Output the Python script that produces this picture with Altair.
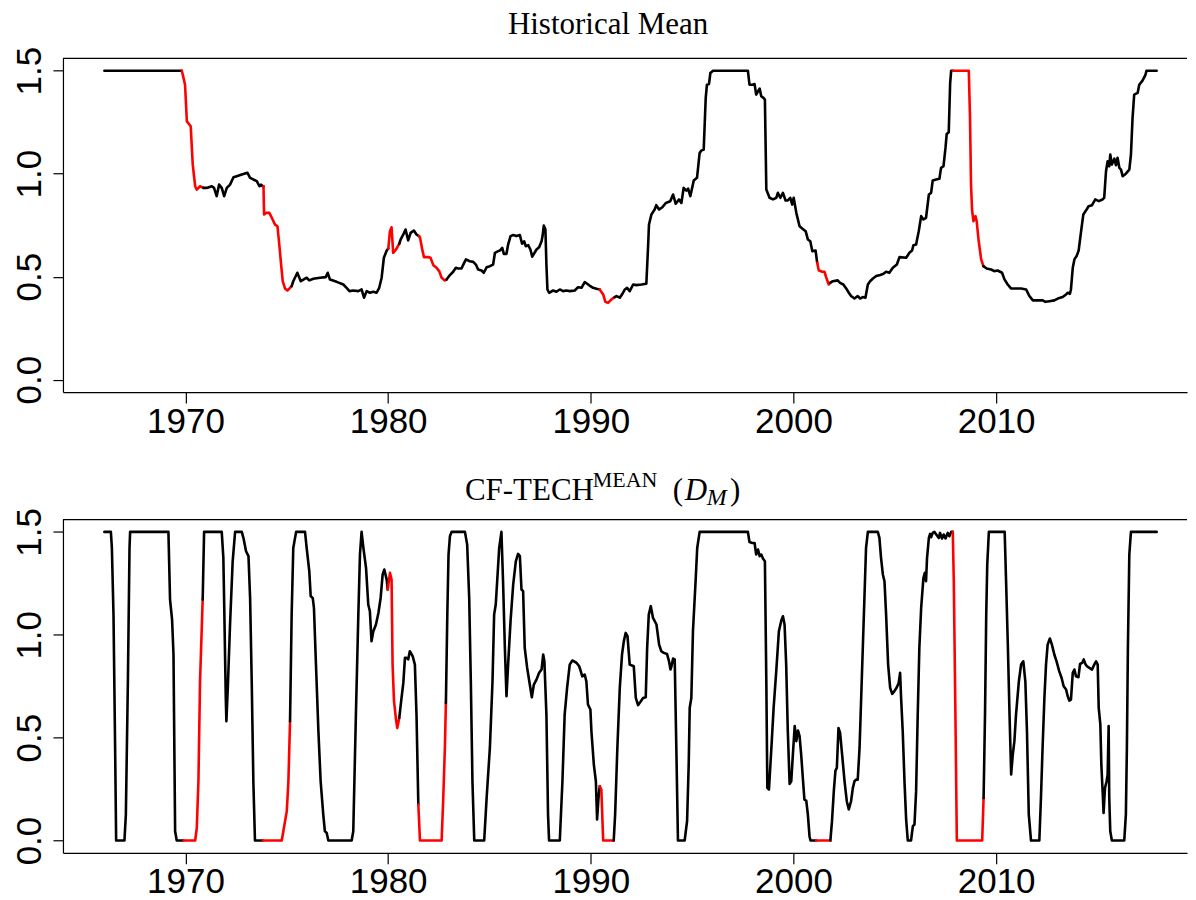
import altair as alt
import pandas as pd

# ---------------- data ----------------
top_t = [1966.00, 1969.82, 1969.87, 1969.98, 1970.07, 1970.26, 1970.36, 1970.48, 1970.56, 1970.72, 1970.89,
         1971.05, 1971.30, 1971.41, 1971.54, 1971.66, 1971.79, 1971.91, 1972.04, 1972.20, 1972.37, 1972.53,
         1972.78, 1973.06, 1973.19, 1973.35, 1973.52, 1973.65, 1973.73, 1973.81, 1973.85, 1973.88, 1973.98,
         1974.14, 1974.26, 1974.42, 1974.54, 1974.63, 1974.72, 1974.80, 1974.91, 1975.03, 1975.16, 1975.24,
         1975.32, 1975.52, 1975.69, 1975.82, 1975.98, 1976.11, 1976.31, 1976.64, 1976.92, 1977.02, 1977.13,
         1977.46, 1977.79, 1977.95, 1978.09, 1978.28, 1978.53, 1978.69, 1978.81, 1978.94, 1979.10, 1979.27,
         1979.43, 1979.56, 1979.68, 1979.79, 1979.93, 1980.01, 1980.09, 1980.17, 1980.25, 1980.39, 1980.55,
         1980.62, 1980.75, 1980.86, 1980.99, 1981.11, 1981.27, 1981.40, 1981.52, 1981.57, 1981.70, 1981.77,
         1981.98, 1982.09, 1982.23, 1982.39, 1982.52, 1982.64, 1982.80, 1982.88, 1983.05, 1983.21, 1983.34,
         1983.46, 1983.62, 1983.75, 1983.84, 1984.03, 1984.20, 1984.33, 1984.44, 1984.61, 1984.72, 1984.86,
         1985.02, 1985.18, 1985.27, 1985.43, 1985.51, 1985.63, 1985.71, 1985.84, 1985.92, 1986.04, 1986.17,
         1986.33, 1986.50, 1986.61, 1986.71, 1986.79, 1986.91, 1987.02, 1987.11, 1987.32, 1987.45, 1987.57,
         1987.62, 1987.68, 1987.76, 1987.81, 1987.86, 1987.94, 1988.14, 1988.30, 1988.47, 1988.63, 1988.80,
         1988.96, 1989.21, 1989.37, 1989.54, 1989.70, 1989.87, 1989.98, 1990.11, 1990.28, 1990.44, 1990.61,
         1990.72, 1990.85, 1991.02, 1991.18, 1991.27, 1991.43, 1991.56, 1991.68, 1991.79, 1991.92, 1992.09,
         1992.25, 1992.50, 1992.74, 1992.83, 1992.87, 1992.99, 1993.15, 1993.23, 1993.37, 1993.53, 1993.70,
         1993.92, 1994.06, 1994.19, 1994.35, 1994.47, 1994.58, 1994.71, 1994.80, 1994.91, 1995.08, 1995.24,
         1995.37, 1995.45, 1995.57, 1995.67, 1995.73, 1995.83, 1995.90, 1996.03, 1997.75, 1997.83, 1997.97,
         1998.08, 1998.16, 1998.25, 1998.33, 1998.41, 1998.52, 1998.59, 1998.66, 1998.82, 1998.99, 1999.15,
         1999.23, 1999.35, 1999.48, 1999.61, 1999.72, 1999.84, 1999.94, 2000.01, 2000.14, 2000.30, 2000.43,
         2000.60, 2000.71, 2000.83, 2000.93, 2001.09, 2001.17, 2001.25, 2001.42, 2001.53, 2001.61, 2001.74,
         2001.81, 2001.94, 2002.18, 2002.30, 2002.46, 2002.60, 2002.73, 2002.84, 2003.01, 2003.17, 2003.29,
         2003.42, 2003.55, 2003.67, 2003.78, 2003.92, 2004.08, 2004.28, 2004.44, 2004.57, 2004.73, 2004.90,
         2005.10, 2005.23, 2005.56, 2005.72, 2005.85, 2005.92, 2006.05, 2006.18, 2006.30, 2006.41, 2006.54,
         2006.68, 2006.79, 2006.87, 2007.04, 2007.20, 2007.28, 2007.40, 2007.50, 2007.56, 2007.66, 2007.73,
         2007.78, 2007.86, 2008.65, 2008.71, 2008.76, 2008.81, 2008.88, 2008.98, 2009.04, 2009.14, 2009.26,
         2009.37, 2009.53, 2009.75, 2009.91, 2010.07, 2010.29, 2010.41, 2010.57, 2010.73, 2010.98, 2011.23,
         2011.48, 2011.64, 2011.81, 2012.05, 2012.30, 2012.43, 2012.63, 2012.87, 2013.04, 2013.28, 2013.45,
         2013.53, 2013.64, 2013.69, 2013.78, 2013.86, 2013.97, 2014.07, 2014.18, 2014.30, 2014.43, 2014.56,
         2014.73, 2014.89, 2015.06, 2015.25, 2015.33, 2015.42, 2015.50, 2015.58, 2015.63, 2015.71, 2015.83,
         2015.91, 2015.99, 2016.08, 2016.16, 2016.24, 2016.40, 2016.57, 2016.65, 2016.73, 2016.81, 2016.98,
         2017.06, 2017.22, 2017.36, 2017.42, 2017.92]
top_v = [1.5, 1.5, 1.48, 1.432, 1.254, 1.23, 1.044, 0.939, 0.923, 0.939, 0.931,
         0.931, 0.939, 0.931, 0.891, 0.947, 0.931, 0.891, 0.931, 0.947, 0.983, 0.988,
         0.996, 1.004, 0.980, 0.972, 0.964, 0.939, 0.947, 0.939, 0.939, 0.802, 0.810,
         0.810, 0.786, 0.753, 0.745, 0.656, 0.559, 0.478, 0.443, 0.433, 0.446, 0.454,
         0.478, 0.519, 0.478, 0.486, 0.495, 0.482, 0.490, 0.495, 0.498, 0.519, 0.486,
         0.475, 0.462, 0.446, 0.430, 0.433, 0.430, 0.438, 0.398, 0.430, 0.422, 0.427,
         0.422, 0.446, 0.495, 0.592, 0.627, 0.637, 0.721, 0.740, 0.616, 0.632, 0.660,
         0.681, 0.705, 0.729, 0.676, 0.713, 0.724, 0.705, 0.697, 0.692, 0.624, 0.595,
         0.595, 0.592, 0.556, 0.543, 0.527, 0.495, 0.482, 0.486, 0.508, 0.524, 0.543,
         0.540, 0.540, 0.567, 0.584, 0.575, 0.572, 0.559, 0.535, 0.530, 0.519, 0.546,
         0.551, 0.559, 0.616, 0.624, 0.627, 0.640, 0.611, 0.611, 0.656, 0.697, 0.702,
         0.697, 0.702, 0.660, 0.672, 0.648, 0.653, 0.632, 0.597, 0.632, 0.643, 0.672,
         0.697, 0.748, 0.729, 0.559, 0.438, 0.422, 0.433, 0.427, 0.438, 0.430, 0.433,
         0.430, 0.433, 0.449, 0.446, 0.474, 0.462, 0.454, 0.446, 0.441, 0.438, 0.414,
         0.378, 0.373, 0.390, 0.401, 0.406, 0.398, 0.417, 0.438, 0.446, 0.430, 0.462,
         0.459, 0.462, 0.466, 0.656, 0.753, 0.802, 0.826, 0.847, 0.826, 0.837, 0.858,
         0.866, 0.899, 0.854, 0.875, 0.858, 0.931, 0.918, 0.928, 0.891, 0.967, 0.980,
         1.101, 1.112, 1.117, 1.368, 1.432, 1.435, 1.489, 1.5, 1.5, 1.432, 1.432,
         1.435, 1.384, 1.400, 1.413, 1.376, 1.368, 1.360, 0.923, 0.883, 0.875, 0.883,
         0.907, 0.883, 0.907, 0.870, 0.870, 0.883, 0.850, 0.883, 0.810, 0.745, 0.734,
         0.721, 0.681, 0.672, 0.624, 0.627, 0.567, 0.530, 0.524, 0.524, 0.498, 0.462,
         0.470, 0.478, 0.482, 0.470, 0.462, 0.443, 0.422, 0.406, 0.394, 0.406, 0.394,
         0.401, 0.398, 0.462, 0.478, 0.491, 0.503, 0.508, 0.514, 0.524, 0.519, 0.543,
         0.559, 0.595, 0.592, 0.616, 0.627, 0.653, 0.656, 0.721, 0.794, 0.778, 0.786,
         0.899, 0.907, 0.967, 0.972, 0.975, 1.028, 1.036, 1.125, 1.193, 1.201, 1.440,
         1.5, 1.5, 1.5, 1.271, 0.947, 0.826, 0.769, 0.794, 0.769, 0.672, 0.584,
         0.551, 0.540, 0.535, 0.527, 0.530, 0.519, 0.487, 0.462, 0.443, 0.443, 0.443,
         0.438, 0.406, 0.385, 0.385, 0.385, 0.378, 0.381, 0.385, 0.394, 0.401, 0.414,
         0.422, 0.417, 0.438, 0.543, 0.584, 0.600, 0.627, 0.713, 0.802, 0.821, 0.842,
         0.847, 0.875, 0.867, 0.875, 0.883, 1.012, 1.060, 1.036, 1.093, 1.044, 1.073,
         1.041, 1.077, 1.028, 1.020, 0.988, 1.000, 1.020, 1.093, 1.271, 1.384, 1.392,
         1.432, 1.452, 1.478, 1.5, 1.5]
top_red = [(1969.82, 1970.89), (1973.85, 1975.24), (1980.01, 1980.55), (1981.52, 1982.88),
           (1990.44, 1991.18), (2001.17, 2001.81), (2007.86, 2009.37)]

bot_t = [1966.00, 1966.32, 1966.37, 1966.45, 1966.53, 1966.58, 1966.99, 1967.06, 1967.16, 1967.24, 1967.27,
         1969.16, 1969.24, 1969.34, 1969.41, 1969.49, 1969.57, 1969.90, 1970.48, 1970.56, 1970.64, 1970.72,
         1970.85, 1970.92, 1971.79, 1971.87, 1971.92, 1971.99, 1972.02, 1972.09, 1972.20, 1972.33, 1972.45,
         1972.78, 1972.86, 1972.99, 1973.11, 1973.19, 1973.27, 1973.35, 1973.43, 1973.81, 1974.75, 1974.83,
         1975.00, 1975.08, 1975.16, 1975.24, 1975.32, 1975.46, 1975.90, 1975.98, 1976.11, 1976.18, 1976.28,
         1976.34, 1976.44, 1976.56, 1976.67, 1976.80, 1976.88, 1976.97, 1977.05, 1978.20, 1978.28, 1978.41,
         1978.53, 1978.61, 1978.69, 1978.78, 1978.91, 1979.02, 1979.10, 1979.18, 1979.27, 1979.40, 1979.52,
         1979.63, 1979.73, 1979.81, 1979.93, 1979.98, 1980.09, 1980.17, 1980.22, 1980.29, 1980.39, 1980.45,
         1980.55, 1980.67, 1980.75, 1980.83, 1980.91, 1980.99, 1981.07, 1981.21, 1981.32, 1981.40, 1981.49,
         1981.57, 1982.64, 1982.72, 1982.80, 1982.85, 1982.92, 1982.98, 1983.05, 1983.13, 1983.79, 1983.90,
         1984.00, 1984.08, 1984.16, 1984.25, 1984.74, 1984.86, 1985.02, 1985.15, 1985.23, 1985.31, 1985.38,
         1985.48, 1985.59, 1985.67, 1985.76, 1985.84, 1985.92, 1986.04, 1986.17, 1986.30, 1986.41, 1986.50,
         1986.58, 1986.66, 1986.74, 1986.86, 1986.99, 1987.09, 1987.19, 1987.32, 1987.45, 1987.57, 1987.65,
         1987.71, 1987.81, 1987.89, 1987.94, 1988.47, 1988.60, 1988.71, 1988.83, 1988.96, 1989.09, 1989.29,
         1989.42, 1989.48, 1989.58, 1989.70, 1989.78, 1989.86, 1989.98, 1990.03, 1990.15, 1990.25, 1990.31,
         1990.38, 1990.44, 1990.52, 1990.61, 1991.13, 1991.20, 1991.31, 1991.43, 1991.54, 1991.63, 1991.72,
         1991.81, 1991.92, 1992.00, 1992.12, 1992.22, 1992.33, 1992.45, 1992.58, 1992.71, 1992.78, 1992.86,
         1992.96, 1993.07, 1993.24, 1993.37, 1993.48, 1993.60, 1993.76, 1993.86, 1993.93, 1993.98, 1994.06,
         1994.14, 1994.22, 1994.30, 1994.63, 1994.75, 1994.83, 1994.88, 1994.96, 1995.04, 1995.17, 1995.25,
         1995.37, 1997.75, 1997.83, 1997.97, 1998.08, 1998.16, 1998.25, 1998.33, 1998.41, 1998.50, 1998.59,
         1998.66, 1998.71, 1998.79, 1998.91, 1999.02, 1999.15, 1999.28, 1999.40, 1999.48, 1999.56, 1999.64,
         1999.72, 1999.81, 1999.89, 1999.97, 2000.06, 2000.14, 2000.22, 2000.30, 2000.38, 2000.46, 2000.54,
         2000.63, 2000.71, 2000.79, 2000.84, 2001.12, 2001.82, 2001.90, 2001.99, 2002.07, 2002.14, 2002.22,
         2002.30, 2002.40, 2002.52, 2002.63, 2002.73, 2002.84, 2002.93, 2003.01, 2003.09, 2003.17, 2003.26,
         2003.34, 2003.42, 2003.50, 2003.58, 2003.67, 2004.16, 2004.24, 2004.32, 2004.41, 2004.49, 2004.57,
         2004.67, 2004.77, 2004.87, 2004.98, 2005.10, 2005.19, 2005.26, 2005.31, 2005.39, 2005.48, 2005.56,
         2005.64, 2005.80, 2005.89, 2005.97, 2006.05, 2006.13, 2006.21, 2006.30, 2006.41, 2006.48, 2006.54,
         2006.59, 2006.68, 2006.74, 2006.79, 2006.87, 2006.95, 2007.07, 2007.17, 2007.23, 2007.33, 2007.41,
         2007.50, 2007.61, 2007.69, 2007.78, 2007.86, 2007.91, 2007.99, 2008.06, 2009.31, 2009.38, 2009.45,
         2009.51, 2009.56, 2009.64, 2010.42, 2010.49, 2010.58, 2010.66, 2010.74, 2010.82, 2010.90, 2010.98,
         2011.12, 2011.23, 2011.34, 2011.44, 2011.52, 2011.61, 2011.72, 2012.13, 2012.21, 2012.29, 2012.38,
         2012.46, 2012.54, 2012.65, 2012.75, 2012.87, 2012.98, 2013.11, 2013.23, 2013.33, 2013.45, 2013.53,
         2013.61, 2013.69, 2013.78, 2013.86, 2013.94, 2014.06, 2014.14, 2014.24, 2014.32, 2014.40, 2014.48,
         2014.60, 2014.73, 2014.84, 2014.93, 2015.01, 2015.06, 2015.14, 2015.19, 2015.26, 2015.30, 2015.37,
         2015.45, 2015.50, 2015.55, 2015.58, 2015.63, 2015.71, 2016.32, 2016.40, 2016.45, 2016.50, 2016.57,
         2016.65, 2017.92]
bot_v = [1.5, 1.5, 1.422, 1.098, 0.450, 0.0, 0.0, 0.126, 0.774, 1.422, 1.5,
         1.5, 1.171, 1.074, 0.904, 0.045, 0.0, 0.0, 0.0, 0.062, 0.288, 0.774,
         1.171, 1.5, 1.5, 1.374, 1.098, 0.693, 0.580, 0.742, 1.050, 1.357, 1.5,
         1.5, 1.471, 1.406, 1.382, 1.179, 0.774, 0.288, 0.0, 0.0, 0.0, 0.045,
         0.143, 0.288, 0.580, 1.098, 1.422, 1.5, 1.5, 1.422, 1.309, 1.187, 1.179,
         1.131, 0.855, 0.531, 0.288, 0.126, 0.045, 0.037, 0.0, 0.0, 0.045, 0.612,
         1.098, 1.390, 1.5, 1.422, 1.325, 1.147, 1.114, 0.969, 1.017, 1.050, 1.106,
         1.179, 1.293, 1.317, 1.268, 1.220, 1.301, 1.268, 0.855, 0.677, 0.588, 0.547,
         0.596, 0.701, 0.766, 0.888, 0.888, 0.880, 0.920, 0.896, 0.855, 0.612, 0.175,
         0.0, 0.0, 0.207, 0.450, 0.669, 1.098, 1.390, 1.479, 1.5, 1.5, 1.438,
         1.179, 0.774, 0.288, 0.0, 0.0, 0.207, 0.450, 0.774, 1.098, 1.147, 1.260,
         1.422, 1.5, 1.260, 0.936, 0.701, 0.855, 1.066, 1.244, 1.357, 1.393, 1.382,
         1.220, 1.212, 0.936, 0.839, 0.758, 0.696, 0.758, 0.782, 0.815, 0.831, 0.904,
         0.871, 0.612, 0.126, 0.0, 0.0, 0.288, 0.612, 0.742, 0.855, 0.875, 0.864,
         0.848, 0.831, 0.798, 0.806, 0.774, 0.661, 0.637, 0.531, 0.369, 0.288, 0.102,
         0.207, 0.264, 0.248, 0.0, 0.0, 0.126, 0.450, 0.742, 0.904, 0.969, 1.009,
         0.993, 0.855, 0.852, 0.847, 0.693, 0.658, 0.674, 0.693, 0.696, 0.936, 1.098,
         1.139, 1.082, 1.050, 0.952, 0.920, 0.912, 0.907, 0.871, 0.831, 0.847, 0.884,
         0.880, 0.450, 0.0, 0.0, 0.094, 0.369, 0.645, 0.693, 1.017, 1.260, 1.422,
         1.5, 1.5, 1.451, 1.446, 1.446, 1.390, 1.414, 1.382, 1.390, 1.369, 1.357,
         0.774, 0.256, 0.248, 0.450, 0.645, 0.823, 1.017, 1.069, 1.090, 1.050, 0.855,
         0.531, 0.275, 0.288, 0.418, 0.556, 0.483, 0.535, 0.507, 0.418, 0.305, 0.199,
         0.194, 0.126, 0.021, 0.0, 0.0, 0.0, 0.094, 0.240, 0.340, 0.353, 0.547,
         0.523, 0.418, 0.288, 0.191, 0.151, 0.191, 0.256, 0.288, 0.296, 0.296, 0.450,
         0.693, 0.936, 1.179, 1.422, 1.5, 1.5, 1.471, 1.374, 1.293, 1.260, 1.098,
         0.855, 0.742, 0.713, 0.726, 0.745, 0.766, 0.815, 0.693, 0.531, 0.280, 0.100,
         0.0, 0.0, 0.070, 0.078, 0.240, 0.612, 0.936, 1.131, 1.276, 1.301, 1.260,
         1.374, 1.471, 1.490, 1.474, 1.495, 1.5, 1.484, 1.471, 1.495, 1.468, 1.487,
         1.468, 1.495, 1.479, 1.5, 1.5, 1.260, 0.612, 0.0, 0.0, 0.207, 0.612,
         1.098, 1.341, 1.5, 1.5, 1.260, 0.936, 0.612, 0.321, 0.418, 0.483, 0.612,
         0.774, 0.855, 0.871, 0.774, 0.531, 0.126, 0.0, 0.0, 0.207, 0.450, 0.693,
         0.855, 0.952, 0.982, 0.952, 0.904, 0.871, 0.823, 0.790, 0.750, 0.734, 0.701,
         0.680, 0.685, 0.815, 0.831, 0.798, 0.794, 0.858, 0.863, 0.880, 0.858, 0.847,
         0.839, 0.831, 0.855, 0.871, 0.855, 0.645, 0.564, 0.369, 0.224, 0.134, 0.256,
         0.288, 0.321, 0.556, 0.207, 0.045, 0.0, 0.0, 0.126, 0.450, 0.936, 1.390,
         1.5, 1.5]
bot_red = [(1969.90, 1970.85), (1973.81, 1975.16), (1979.98, 1980.55), (1981.49, 1982.85),
           (1990.44, 1991.13), (2001.12, 2001.82), (2007.86, 2009.38)]

x_ticks = [1970, 1980, 1990, 2000, 2010]
y_ticks = [0.0, 0.5, 1.0, 1.5]

# ---------------- layout constants ----------------
X_DOM = [1963.956, 2019.416]
Y_DOM = [-0.06, 1.56]
W = 1125
H1 = 334
H2 = 333.6
SANS = "Liberation Sans"
SERIF = "Liberation Serif"


def segments(ts, vs, reds):
    rows = []
    seg = -1
    prev = None
    for i in range(len(ts) - 1):
        mid = (ts[i] + ts[i + 1]) / 2
        col = "red" if any(a <= mid <= b for a, b in reds) else "black"
        if col != prev:
            seg += 1
            prev = col
            rows.append({"t": ts[i], "v": vs[i], "seg": seg, "col": col, "k": i})
        rows.append({"t": ts[i + 1], "v": vs[i + 1], "seg": seg, "col": col, "k": i + 1})
    return pd.DataFrame(rows)


one = pd.DataFrame({"a": [0]})


def line_layer(df):
    return alt.Chart(df).mark_line(strokeWidth=2.6, strokeJoin="round", strokeCap="round", clip=True).encode(
        x=alt.X("t:Q", scale=alt.Scale(domain=X_DOM, nice=False, zero=False),
                axis=alt.Axis(values=x_ticks, format="d", title=None, grid=False,
                              tickSize=11, tickWidth=1.2, tickColor="black",
                              domainColor="black", domainWidth=1.2,
                              labelFont=SANS, labelFontSize=35, labelColor="black",
                              labelPadding=1, labelBaseline="top", labelFlush=False,
                              labelOverlap=False)),
        y=alt.Y("v:Q", scale=alt.Scale(domain=Y_DOM, nice=False, zero=False),
                axis=alt.Axis(values=y_ticks, format=".1f", title=None, grid=False,
                              tickSize=10, tickWidth=1.2, tickColor="black",
                              domainColor="black", domainWidth=1.2,
                              labelFont=SANS, labelFontSize=35, labelColor="black",
                              labelAngle=270, labelAlign="center", labelBaseline="alphabetic",
                              labelPadding=12.7, labelFlush=False, labelOverlap=False,
                              minExtent=54.7, maxExtent=54.7)),
        color=alt.Color("col:N", scale=alt.Scale(domain=["black", "red"], range=["#000000", "#ff0000"]),
                        legend=None),
        detail="seg:N",
        order="k:Q",
    )


def frame_top():
    return alt.Chart(one).mark_rule(color="black", strokeWidth=1.2).encode(
        x=alt.value(0), x2=alt.value(W), y=alt.value(0))


def txt(s, x, y, size=31, style="normal"):
    return alt.Chart(one).mark_text(align="left", baseline="alphabetic", font=SERIF, fontSize=size,
                                    fontStyle=style, color="black").encode(
        x=alt.value(x), y=alt.value(y), text=alt.value(s))


top_df = segments(top_t, top_v, top_red)
bot_df = segments(bot_t, bot_v, bot_red)

top = alt.layer(
    line_layer(top_df),
    frame_top(),
    txt("Historical Mean", 445.3, -24.7),
).properties(width=W, height=H1)

bottom = alt.layer(
    line_layer(bot_df),
    frame_top(),
    txt("CF-TECH", 402.3, -19.7),
    txt("MEAN", 530.3, -32.1, size=22),
    txt("(", 610.3, -19.7),
    txt("D", 622.3, -19.7, style="italic"),
    txt("M", 644.3, -14.7, size=24, style="italic"),
    txt(")", 667.5, -19.7),
).properties(width=W, height=H2)

chart = alt.vconcat(top, bottom, spacing=29.6).properties(
    padding={"left": 0, "top": 0, "right": 0, "bottom": 0},
    background="white",
).configure_view(strokeWidth=0)

chart.save("out.html", embed_options={"renderer": "svg", "actions": False})
